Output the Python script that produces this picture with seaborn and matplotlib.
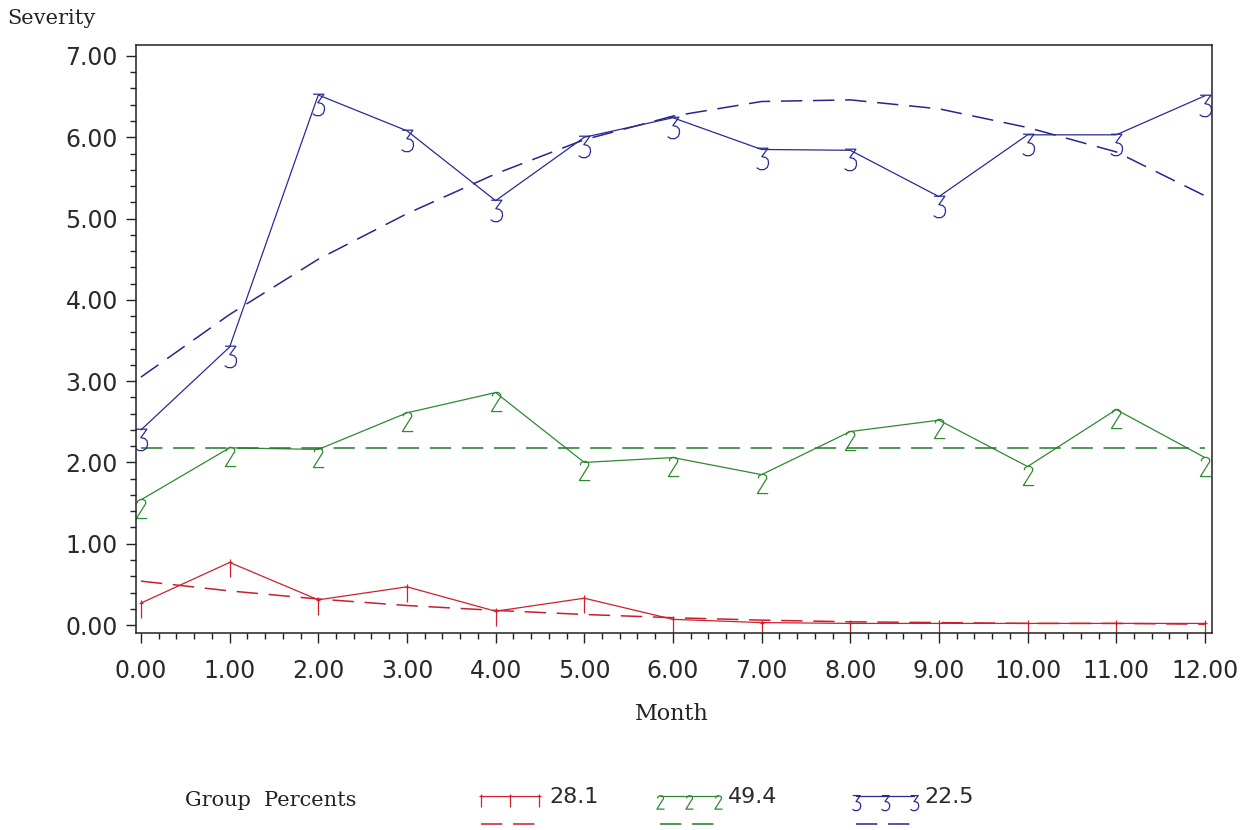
import matplotlib
matplotlib.use("Agg")
import matplotlib.pyplot as plt
import numpy as np
import pandas as pd
import seaborn as sns
from matplotlib.path import Path
from matplotlib.lines import Line2D
from matplotlib.ticker import MultipleLocator, FormatStrFormatter

# ---------------- data ----------------
months = [0, 1, 2, 3, 4, 5, 6, 7, 8, 9, 10, 11, 12]
group1_obs = [0.27, 0.77, 0.31, 0.47, 0.17, 0.33, 0.07, 0.03, 0.02, 0.02, 0.02, 0.02, 0.02]
group1_fit = [0.54, 0.42, 0.32, 0.24, 0.18, 0.13, 0.09, 0.06, 0.04, 0.03, 0.02, 0.02, 0.01]
group2_obs = [1.54, 2.18, 2.16, 2.61, 2.86, 2.00, 2.06, 1.85, 2.38, 2.52, 1.95, 2.65, 2.06]
group2_fit = [2.18, 2.18, 2.18, 2.18, 2.18, 2.18, 2.18, 2.18, 2.18, 2.18, 2.18, 2.18, 2.18]
group3_obs = [2.40, 3.42, 6.52, 6.08, 5.22, 6.00, 6.24, 5.85, 5.84, 5.27, 6.03, 6.03, 6.51]
group3_fit = [3.05, 3.82, 4.50, 5.06, 5.55, 5.97, 6.26, 6.44, 6.46, 6.35, 6.12, 5.82, 5.28]
group_percents = ["28.1", "49.4", "22.5"]
colors = ["#D0202C", "#2F8A2F", "#2A2A96"]
fit_colors = ["#C8202C", "#23782A", "#26268C"]

# ---------------- glyph markers (SAS-like symbols, stroke only) ----------------
M, L = Path.MOVETO, Path.LINETO
m1_verts = [(0, 0.18), (0, -0.85), (-0.13, 0.02), (0.13, 0.02)]
m1_codes = [M, L, M, L]
marker1 = Path(m1_verts, m1_codes)

m2_verts = [(-0.2, -0.13), (-0.17, -0.02), (-0.06, 0.05), (0.08, 0.05), (0.19, -0.03),
            (0.2, -0.15), (0.12, -0.27), (-0.24, -0.85), (0.27, -0.85)]
marker2 = Path(m2_verts, [M] + [L] * 8)

m3_verts = [(-0.25, 0.06), (0.25, 0.06), (-0.03, -0.33), (0.15, -0.37), (0.26, -0.48),
            (0.28, -0.66), (0.22, -0.83), (0.07, -0.93), (-0.12, -0.93), (-0.27, -0.84)]
marker3 = Path(m3_verts, [M] + [L] * 9)
markers = [marker1, marker2, marker3]
msizes = [22, 26, 29]

# ---------------- figure ----------------
sns.set_style("white")
plt.rcParams["font.family"] = ["DejaVu Sans"]
W, H = 1241, 830
fig = plt.figure(figsize=(W / 100, H / 100), dpi=100)
ax = fig.add_axes([136 / W, 1 - 633 / H, (1212 - 136) / W, (633 - 45) / H])

obs = [group1_obs, group2_obs, group3_obs]
fits = [group1_fit, group2_fit, group3_fit]
for i in range(3):
    df = pd.DataFrame({"Month": months, "Severity": obs[i]})
    sns.lineplot(data=df, x="Month", y="Severity", ax=ax, color=colors[i], lw=0.9,
                 marker=markers[i], markersize=msizes[i], markerfacecolor="none",
                 markeredgecolor=colors[i], markeredgewidth=0.9, legend=False)
    dff = pd.DataFrame({"Month": months, "Severity": fits[i]})
    sns.lineplot(data=dff, x="Month", y="Severity", ax=ax, color=fit_colors[i], lw=1.1,
                 dashes=(14, 7), legend=False)

ax.set_xlim(-0.056, 12.08)
ax.set_ylim(-0.098, 7.135)
ax.xaxis.set_major_locator(MultipleLocator(1))
ax.xaxis.set_minor_locator(MultipleLocator(0.2))
ax.yaxis.set_major_locator(MultipleLocator(1))
ax.yaxis.set_minor_locator(MultipleLocator(0.2))
ax.xaxis.set_major_formatter(FormatStrFormatter("%.2f"))
ax.yaxis.set_major_formatter(FormatStrFormatter("%.2f"))
ax.tick_params(which="both", direction="out", left=True, bottom=True, top=False, right=False,
               color="#222222", width=1.0)
ax.tick_params(which="major", length=7, labelsize=17, labelcolor="#2a2a2a", pad=6)
ax.tick_params(which="minor", length=4)
ax.tick_params(axis="x", which="major", pad=12)
for s in ax.spines.values():
    s.set_color("#222222")
    s.set_linewidth(1.1)
    s.set_visible(True)

ax.set_xlabel("")
ax.set_ylabel("")
serif = ["DejaVu Serif"]
fig.text(7 / W, 1 - 18 / H, "Severity", family=serif, fontsize=15, color="#222222",
         ha="left", va="center")
fig.text(672 / W, 1 - 714 / H, "Month", family=serif, fontsize=16, color="#222222",
         ha="center", va="center")

# ---------------- legend ----------------
fig.text(185 / W, 1 - 800 / H, "Group  Percents", family=serif, fontsize=15,
         color="#222222", ha="left", va="center")
starts = [481, 660, 856]
for i in range(3):
    x0 = starts[i]
    xs = [x0 / W, (x0 + 29) / W, (x0 + 58) / W]
    ys = [1 - 796 / H] * 3
    fig.add_artist(Line2D(xs, ys, transform=fig.transFigure, color=colors[i], lw=0.9,
                          marker=markers[i], markersize=msizes[i] * 0.7,
                          markerfacecolor="none", markeredgecolor=colors[i],
                          markeredgewidth=0.9))
    fig.add_artist(Line2D([x0 / W, (x0 + 58) / W], [1 - 824 / H] * 2,
                          transform=fig.transFigure, color=fit_colors[i], lw=1.1,
                          dashes=(14, 7)))
    fig.text((x0 + 68) / W, 1 - 797 / H, group_percents[i], fontsize=16,
             color="#2a2a2a", ha="left", va="center")

fig.savefig("out.png", dpi=100, facecolor="white")
